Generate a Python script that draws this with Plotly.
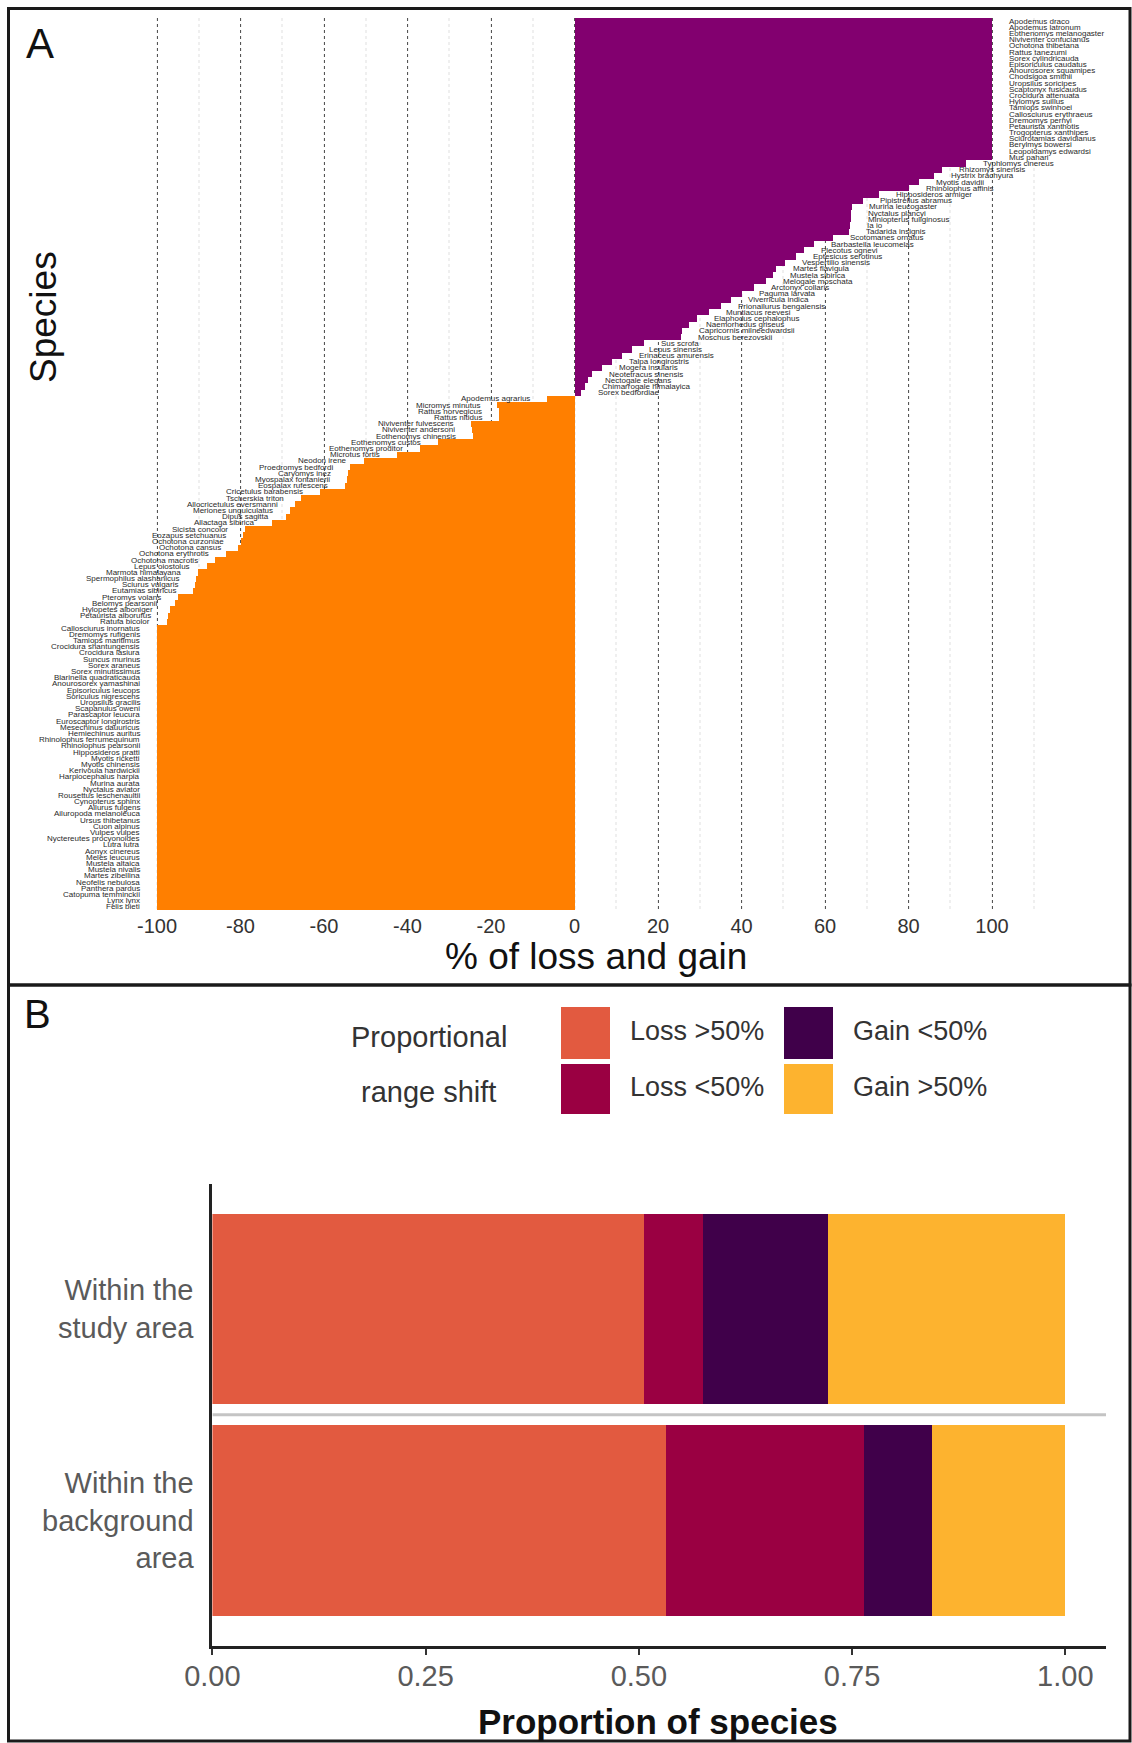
import plotly.graph_objects as go

W, H = 1132, 1743

# ---------------- Panel A data (top to bottom) ----------------
gain_species = [
    "Apodemus draco", "Apodemus latronum", "Eothenomys melanogaster", "Niviventer confucianus",
    "Ochotona thibetana", "Rattus tanezumi", "Sorex cylindricauda", "Episoriculus caudatus",
    "Anourosorex squamipes", "Chodsigoa smithii", "Uropsilus soricipes", "Scaptonyx fusicaudus",
    "Crocidura attenuata", "Hylomys suillus", "Tamiops swinhoei", "Callosciurus erythraeus",
    "Dremomys pernyi", "Petaurista xanthotis", "Trogopterus xanthipes", "Sciurotamias davidianus",
    "Berylmys bowersi", "Leopoldamys edwardsi", "Mus pahari", "Typhlomys cinereus",
    "Rhizomys sinensis", "Hystrix brachyura", "Myotis davidii", "Rhinolophus affinis",
    "Hipposideros armiger", "Pipistrellus abramus", "Murina leucogaster", "Nyctalus plancyi",
    "Miniopterus fuliginosus", "Ia io", "Tadarida insignis", "Scotomanes ornatus",
    "Barbastella leucomelas", "Plecotus ognevi", "Eptesicus serotinus", "Vespertilio sinensis",
    "Martes flavigula", "Mustela sibirica", "Melogale moschata", "Arctonyx collaris",
    "Paguma larvata", "Viverricula indica", "Prionailurus bengalensis", "Muntiacus reevesi",
    "Elaphodus cephalophus", "Naemorhedus griseus", "Capricornis milneedwardsii", "Moschus berezovskii",
    "Sus scrofa", "Lepus sinensis", "Erinaceus amurensis", "Talpa longirostris",
    "Mogera insularis", "Neotetracus sinensis", "Nectogale elegans", "Chimarrogale himalayica",
    "Sorex bedfordiae",
]
gain_values = [
    100, 100, 100, 100, 100, 100, 100, 100, 100, 100, 100, 100,
    100, 100, 100, 100, 100, 100, 100, 100, 100, 100, 100,
    93.8, 88.0, 86.2, 82.6, 80.2, 73.0, 69.0, 66.5, 66.3, 66.2, 66.0, 65.8,
    61.8, 57.4, 55.0, 53.0, 50.5,
    48.2, 47.6, 45.8, 43.0, 40.2, 37.4, 35.0, 32.2, 29.4, 27.4, 25.8, 25.4,
    16.6, 13.8, 11.4, 9.0, 6.6, 4.2, 3.2, 2.5, 1.5,
]

loss_species = [
    "Apodemus agrarius", "Micromys minutus", "Rattus norvegicus", "Rattus nitidus",
    "Niviventer fulvescens", "Niviventer andersoni", "Eothenomys chinensis", "Eothenomys custos",
    "Eothenomys proditor", "Microtus fortis", "Neodon irene", "Proedromys bedfordi",
    "Caryomys inez", "Myospalax fontanierii", "Eospalax rufescens", "Cricetulus barabensis",
    "Tscherskia triton", "Allocricetulus eversmanni", "Meriones unguiculatus", "Dipus sagitta",
    "Allactaga sibirica", "Sicista concolor", "Eozapus setchuanus", "Ochotona curzoniae",
    "Ochotona cansus", "Ochotona erythrotis", "Ochotona macrotis", "Lepus oiostolus",
    "Marmota himalayana", "Spermophilus alashanicus", "Sciurus vulgaris", "Eutamias sibiricus",
    "Pteromys volans", "Belomys pearsonii", "Hylopetes alboniger", "Petaurista alborufus",
    "Ratufa bicolor", "Callosciurus inornatus", "Dremomys rufigenis", "Tamiops maritimus",
    "Crocidura shantungensis", "Crocidura lasiura", "Suncus murinus", "Sorex araneus",
    "Sorex minutissimus", "Blarinella quadraticauda", "Anourosorex yamashinai", "Episoriculus leucops",
    "Soriculus nigrescens", "Uropsilus gracilis", "Scapanulus oweni", "Parascaptor leucura",
    "Euroscaptor longirostris", "Mesechinus dauuricus", "Hemiechinus auritus", "Rhinolophus ferrumequinum",
    "Rhinolophus pearsonii", "Hipposideros pratti", "Myotis ricketti", "Myotis chinensis",
    "Kerivoula hardwickii", "Harpiocephalus harpia", "Murina aurata", "Nyctalus aviator",
    "Rousettus leschenaultii", "Cynopterus sphinx", "Ailurus fulgens", "Ailuropoda melanoleuca",
    "Ursus thibetanus", "Cuon alpinus", "Vulpes vulpes", "Nyctereutes procyonoides",
    "Lutra lutra", "Aonyx cinereus", "Meles leucurus", "Mustela altaica",
    "Mustela nivalis", "Martes zibellina", "Neofelis nebulosa", "Panthera pardus",
    "Catopuma temminckii", "Lynx lynx", "Felis bieti",
]
loss_values = [
    -6.5, -18.5, -18.2, -18.0, -24.8, -24.5, -24.2, -32.6, -36.9, -42.5,
    -50.5, -53.8, -54.2, -54.6, -55.0, -61.0, -65.5, -67.0, -68.2, -69.0,
    -72.5, -79.0, -79.5, -80.0, -80.5, -83.5, -86.2, -88.0, -90.2, -90.6,
    -91.0, -91.4, -95.0, -95.8, -97.0, -97.3, -97.6,
    -100, -100, -100, -100, -100, -100, -100, -100, -100, -100,
    -100, -100, -100, -100, -100, -100, -100, -100, -100, -100,
    -100, -100, -100, -100, -100, -100, -100, -100, -100, -100,
    -100, -100, -100, -100, -100, -100, -100, -100, -100, -100,
    -100, -100, -100, -100, -100, -100,
]

a_ticks = [-100, -80, -60, -40, -20, 0, 20, 40, 60, 80, 100]

# ---------------- Panel B data ----------------
b_categories = ["Within the background area", "Within the study area"]
b_ticktext = ["Within the<br>background<br>area", "Within the<br>study area"]
b_groups = ["Loss >50%", "Loss <50%", "Gain <50%", "Gain >50%"]
b_values = {
    "Loss >50%": [0.532, 0.507],
    "Loss <50%": [0.233, 0.069],
    "Gain <50%": [0.079, 0.146],
    "Gain >50%": [0.156, 0.278],
}
b_colors = {
    "Loss >50%": "#E25A40",
    "Loss <50%": "#9A0042",
    "Gain <50%": "#40004A",
    "Gain >50%": "#FDB32F",
}
b_ticks = [0, 0.25, 0.5, 0.75, 1.0]
b_ticklabels = ["0.00", "0.25", "0.50", "0.75", "1.00"]

PURPLE = "#82006F"
ORANGE = "#FF7F00"
FONT = "Liberation Sans, Arial, sans-serif"

def px(x):
    return x / W

def py(y):
    return 1 - y / H

species_order = gain_species + loss_species
n = len(species_order)

# Panel A axis mapping (pixel -> value)
zero_px, per_unit = 574.5, 4.175
ax_l, ax_r = 115, 1040
a_range = [(ax_l - zero_px) / per_unit, (ax_r - zero_px) / per_unit]

fig = go.Figure()

fig.add_trace(go.Bar(
    x=gain_values, y=gain_species, orientation="h",
    marker=dict(color=PURPLE, line=dict(width=0)),
    xaxis="x", yaxis="y", showlegend=False,
))
fig.add_trace(go.Bar(
    x=loss_values, y=loss_species, orientation="h",
    marker=dict(color=ORANGE, line=dict(width=0)),
    xaxis="x", yaxis="y", showlegend=False,
))

annotations = []
for name, v in zip(gain_species, gain_values):
    annotations.append(dict(x=v, y=name, xref="x", yref="y", text=name, showarrow=False,
                            xanchor="left", yanchor="middle", xshift=15,
                            font=dict(size=8, color="#2a2a2a", family=FONT)))
for name, v in zip(loss_species, loss_values):
    annotations.append(dict(x=v, y=name, xref="x", yref="y", text=name, showarrow=False,
                            xanchor="right", yanchor="middle", xshift=-15,
                            font=dict(size=8, color="#2a2a2a", family=FONT)))

# Panel B bars
for g in b_groups:
    fig.add_trace(go.Bar(
        x=b_values[g], y=[0, 1], orientation="h", width=0.9,
        marker=dict(color=b_colors[g], line=dict(width=0)),
        xaxis="x2", yaxis="y2", showlegend=False, name=g,
    ))

b_xmax = (1106 - 212.4) / 852.9
b_yrange = [-0.593, 1.591]

# Text annotations
annotations += [
    dict(x=px(40), y=py(44), xref="paper", yref="paper", text="A", showarrow=False,
         font=dict(size=42, color="#111", family=FONT), xanchor="center", yanchor="middle"),
    dict(x=px(37), y=py(1014), xref="paper", yref="paper", text="B", showarrow=False,
         font=dict(size=40, color="#111", family=FONT), xanchor="center", yanchor="middle"),
    dict(x=px(43), y=py(317), xref="paper", yref="paper", text="Species", showarrow=False,
         textangle=-90, font=dict(size=37, color="#111", family=FONT), xanchor="center", yanchor="middle"),
    dict(x=px(596), y=py(956), xref="paper", yref="paper", text="% of loss and gain", showarrow=False,
         font=dict(size=37, color="#111", family=FONT), xanchor="center", yanchor="middle"),
    dict(x=px(658), y=py(1721), xref="paper", yref="paper", text="<b>Proportion of species</b>",
         showarrow=False, font=dict(size=35, color="#111", family=FONT), xanchor="center", yanchor="middle"),
    dict(x=px(429), y=py(1037), xref="paper", yref="paper", text="Proportional", showarrow=False,
         font=dict(size=29, color="#333", family=FONT), xanchor="center", yanchor="middle"),
    dict(x=px(429), y=py(1092), xref="paper", yref="paper", text="range shift", showarrow=False,
         font=dict(size=29, color="#333", family=FONT), xanchor="center", yanchor="middle"),
]
for yv, txt in zip([0, 1], b_ticktext):
    annotations.append(dict(x=0, y=yv, xref="x2", yref="y2", text=txt, showarrow=False,
                            xanchor="right", yanchor="middle", xshift=-16, align="right",
                            font=dict(size=29, color="#5a5a5a", family=FONT)))

# Manual legend (2 x 2, column-wise)
legend_pos = {
    "Loss >50%": (561, 1007, 610, 1059),
    "Loss <50%": (561, 1064, 610, 1114),
    "Gain <50%": (784, 1007, 833, 1059),
    "Gain >50%": (784, 1064, 833, 1114),
}
shapes = []
for g in b_groups:
    x0, y0, x1, y1 = legend_pos[g]
    shapes.append(dict(type="rect", xref="paper", yref="paper", x0=px(x0), x1=px(x1),
                       y0=py(y1), y1=py(y0), fillcolor=b_colors[g], line=dict(width=0)))
    annotations.append(dict(x=px(x1 + 18), y=py((y0 + y1) / 2 - 2), xref="paper", yref="paper", text=g,
                            showarrow=False, xanchor="left", yanchor="middle",
                            font=dict(size=27, color="#333", family=FONT)))

# separator line between panel B categories
shapes.append(dict(type="line", xref="x2", yref="y2", x0=0, x1=b_xmax, y0=0.5, y1=0.5,
                   line=dict(color="#c4c4c4", width=3), layer="above"))
# panel frames
shapes.append(dict(type="rect", xref="paper", yref="paper", x0=px(8.5), x1=px(1130),
                   y0=py(985), y1=py(8.5), line=dict(color="#1a1a1a", width=3)))
shapes.append(dict(type="rect", xref="paper", yref="paper", x0=px(8.5), x1=px(1130),
                   y0=py(1741), y1=py(985), line=dict(color="#1a1a1a", width=3)))

fig.update_layout(
    template="none",
    width=W, height=H,
    margin=dict(l=0, r=0, t=0, b=0, pad=0, autoexpand=False),
    paper_bgcolor="white", plot_bgcolor="white",
    barmode="relative", bargap=0,
    font=dict(family=FONT),
    xaxis=dict(
        domain=[px(ax_l), px(ax_r)], range=a_range, anchor="y", automargin=False,
        tickvals=a_ticks, ticktext=[str(t) for t in a_ticks],
        showgrid=True, gridcolor="#555555", gridwidth=1, griddash="dot",
        minor=dict(dtick=10, tick0=0, showgrid=True, gridcolor="#efefef", gridwidth=1.5),
        zeroline=False, showline=False, ticks="",
        tickfont=dict(size=20, color="#333", family=FONT), ticklabelstandoff=2,
    ),
    yaxis=dict(
        domain=[py(910), py(18)], anchor="x", automargin=False,
        categoryorder="array", categoryarray=species_order,
        range=[n - 0.5, -0.5], showticklabels=False, showgrid=False,
        zeroline=False, showline=False, ticks="",
    ),
    xaxis2=dict(
        domain=[px(212.4), px(1106)], range=[0, b_xmax], anchor="y2", automargin=False,
        tickvals=b_ticks, ticktext=b_ticklabels,
        showgrid=False, zeroline=False, showline=True, linecolor="#222", linewidth=2.5,
        ticks="outside", ticklen=6, tickwidth=1.5, tickcolor="#333",
        tickfont=dict(size=29, color="#5a5a5a", family=FONT), ticklabelstandoff=-4,
    ),
    yaxis2=dict(
        domain=[py(1646), py(1184)], range=b_yrange, anchor="x2", automargin=False,
        showticklabels=False, showgrid=False, zeroline=False,
        showline=True, linecolor="#222", linewidth=2.5, ticks="",
    ),
    annotations=annotations,
    shapes=shapes,
)

fig.write_html(
    "out.html",
    config={"displayModeBar": False},
    post_script="document.body.style.margin='0';document.body.style.padding='0';"
                "document.documentElement.style.overflow='hidden';",
)
